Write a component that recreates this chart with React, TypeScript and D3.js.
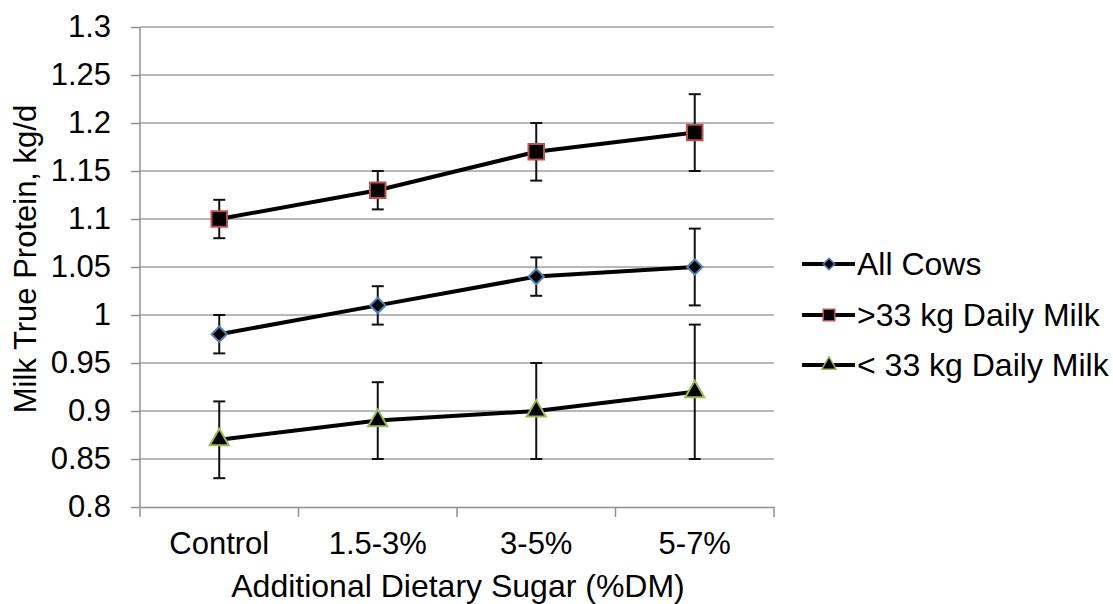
import React, { useEffect, useRef } from 'react';
import * as d3 from 'd3';

const categories = ['Control', '1.5-3%', '3-5%', '5-7%'];
const yTicks = [0.8, 0.85, 0.9, 0.95, 1, 1.05, 1.1, 1.15, 1.2, 1.25, 1.3];

const allCows = [0.98, 1.01, 1.04, 1.05];
const allCowsErr = [0.02, 0.02, 0.02, 0.04];
const over33 = [1.1, 1.13, 1.17, 1.19];
const over33Err = [0.02, 0.02, 0.03, 0.04];
const under33 = [0.87, 0.89, 0.9, 0.92];
const under33Err = [0.04, 0.04, 0.05, 0.07];

const seriesNames = ['All Cows', '>33 kg Daily Milk', '< 33 kg Daily Milk'];

const W = 1113;
const H = 604;
const margin = { top: 27, right: 339, bottom: 97, left: 140 };
const FONT = '"Liberation Sans", Arial, sans-serif';

const App: React.FC = () => {
  const ref = useRef<SVGSVGElement>(null);

  useEffect(() => {
    const svg = d3.select(ref.current);
    svg.selectAll('*').remove();

    const x = d3
      .scaleBand<string>()
      .domain(categories)
      .range([margin.left, W - margin.right]);

    const y = d3
      .scaleLinear()
      .domain([0.8, 1.3])
      .range([H - margin.bottom, margin.top]);

    const series = [
      { name: seriesNames[0], values: allCows, err: allCowsErr, shape: 'diamond', edge: '#4F81BD' },
      { name: seriesNames[1], values: over33, err: over33Err, shape: 'square', edge: '#C0504D' },
      { name: seriesNames[2], values: under33, err: under33Err, shape: 'triangle', edge: '#9BBB59' },
    ];

    // gridlines
    svg
      .append('g')
      .selectAll('line')
      .data(yTicks.slice(1))
      .join('line')
      .attr('x1', margin.left)
      .attr('x2', W - margin.right)
      .attr('y1', (d) => y(d))
      .attr('y2', (d) => y(d))
      .attr('stroke', '#a0a0a0')
      .attr('stroke-width', 1.5);

    // y axis
    const yAxis = svg
      .append('g')
      .attr('transform', `translate(${margin.left},0)`)
      .call(
        d3
          .axisLeft(y)
          .tickValues(yTicks)
          .tickSize(9)
          .tickPadding(20)
          .tickFormat((d) => String(+d))
      );
    yAxis.select('.domain').attr('stroke', '#909090').attr('stroke-width', 1.5).attr('d', `M0,${y(1.3)}V${y(0.8)}`);
    yAxis.selectAll('.tick line').attr('stroke', '#909090').attr('stroke-width', 1.5);
    yAxis
      .selectAll('.tick text')
      .attr('font-family', FONT)
      .attr('font-size', 31)
      .attr('fill', '#000');

    // x axis
    const xAxis = svg
      .append('g')
      .attr('transform', `translate(0,${y(0.8)})`)
      .call(d3.axisBottom(x).tickSize(0).tickPadding(25));
    xAxis.select('.domain').attr('stroke', '#909090').attr('stroke-width', 1.5);
    xAxis
      .selectAll('.tick text')
      .attr('font-family', FONT)
      .attr('font-size', 31)
      .attr('fill', '#000');
    svg
      .append('g')
      .selectAll('line')
      .data([...categories.map((c) => x(c) as number), W - margin.right])
      .join('line')
      .attr('x1', (d) => d)
      .attr('x2', (d) => d)
      .attr('y1', y(0.8))
      .attr('y2', y(0.8) + 10)
      .attr('stroke', '#909090')
      .attr('stroke-width', 1.5);

    // axis titles
    svg
      .append('text')
      .attr('x', (margin.left + W - margin.right) / 2 + 1)
      .attr('y', 597)
      .attr('text-anchor', 'middle')
      .attr('font-family', FONT)
      .attr('font-size', 32)
      .text('Additional Dietary Sugar (%DM)');
    svg
      .append('text')
      .attr('transform', `translate(36,${(y(0.8) + y(1.3)) / 2 - 8}) rotate(-90)`)
      .attr('text-anchor', 'middle')
      .attr('font-family', FONT)
      .attr('font-size', 31)
      .text('Milk True Protein, kg/d');

    const cx = (i: number) => (x(categories[i]) as number) + x.bandwidth() / 2;

    const marker = (g: d3.Selection<SVGGElement, unknown, null, undefined>, shape: string, edge: string) => {
      const sym =
        shape === 'diamond'
          ? d3.symbol().type(d3.symbolDiamond2).size(150)
          : shape === 'square'
          ? d3.symbol().type(d3.symbolSquare).size(240)
          : d3.symbol().type(d3.symbolTriangle).size(160);
      g.append('path')
        .attr('d', sym() as string)
        .attr('fill', '#000')
        .attr('stroke', edge)
        .attr('stroke-width', 2);
    };

    // error bars
    series.forEach((s) => {
      const eb = svg.append('g');
      s.values.forEach((v, i) => {
        const px = cx(i);
        const lo = y(v - s.err[i]);
        const hi = y(v + s.err[i]);
        eb.append('line').attr('x1', px).attr('x2', px).attr('y1', lo).attr('y2', hi).attr('stroke', '#111').attr('stroke-width', 2);
        [lo, hi].forEach((yy) =>
          eb.append('line').attr('x1', px - 6).attr('x2', px + 6).attr('y1', yy).attr('y2', yy).attr('stroke', '#111').attr('stroke-width', 2)
        );
      });
    });

    // lines and markers
    const line = d3
      .line<number>()
      .x((_, i) => cx(i))
      .y((d) => y(d));

    series.forEach((s) => {
      svg
        .append('path')
        .datum(s.values)
        .attr('d', line)
        .attr('fill', 'none')
        .attr('stroke', '#000')
        .attr('stroke-width', 4);
      s.values.forEach((v, i) => {
        const g = svg.append('g').attr('transform', `translate(${cx(i)},${y(v)})`);
        marker(g, s.shape, s.edge);
      });
    });

    // legend
    const legendY = [264, 315, 365];
    series.forEach((s, i) => {
      const ly = legendY[i];
      svg
        .append('line')
        .attr('x1', 802)
        .attr('x2', 855)
        .attr('y1', ly)
        .attr('y2', ly)
        .attr('stroke', '#000')
        .attr('stroke-width', 4);
      const g = svg.append('g').attr('transform', `translate(829,${ly}) scale(0.75)`);
      marker(g, s.shape, s.edge);
      svg
        .append('text')
        .attr('x', 857)
        .attr('y', ly)
        .attr('dy', '0.35em')
        .attr('font-family', FONT)
        .attr('font-size', 32)
        .text(s.name);
    });
  }, []);

  return <svg ref={ref} width={W} height={H} style={{ position: 'absolute', left: 0, top: 0, background: '#fff' }} />;
};

export default App;
